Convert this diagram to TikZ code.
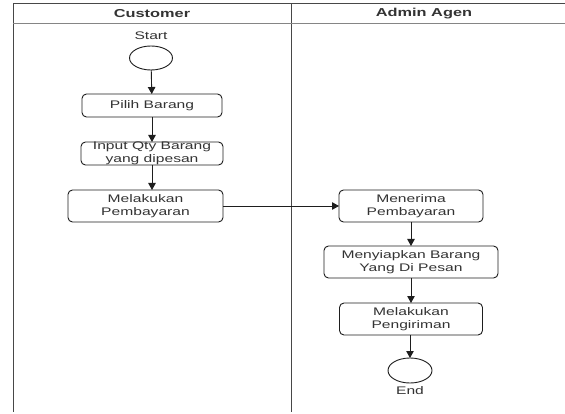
\documentclass[tikz,border=0pt]{standalone}
\usepackage{fontspec}
\setmainfont{Liberation Sans}[FakeStretch=1.42]
\usetikzlibrary{arrows.meta,shapes.geometric}
\definecolor{ink}{HTML}{333333}
\definecolor{edge}{HTML}{1E1E1E}
\tikzset{
  lane/.style={draw=ink!90, line width=1pt},
  act/.style={draw=edge, line width=0.9pt, rounded corners=4.5pt, fill=white,
    text=ink, font=\fontsize{11}{12.7}\selectfont, align=center,
    inner sep=0pt, outer sep=0pt},
  term/.style={ellipse, draw=edge, line width=0.9pt, inner sep=0pt, outer sep=0pt},
  lbl/.style={text=ink, font=\fontsize{11}{12.7}\selectfont, inner sep=0pt},
  head/.style={text=ink, font=\fontsize{11.5}{13}\selectfont\bfseries, inner sep=0pt},
  flow/.style={draw=edge, line width=0.9pt, -{Triangle[length=7pt,width=7.5pt]}},
}
\begin{document}
\begin{tikzpicture}[x=1pt,y=-1pt]
\useasboundingbox[fill=white] (0,0) rectangle (565,414);
% swimlane frame
\coordinate (tl) at (13,4);
\coordinate (tr) at (566,4);
\coordinate (bl) at (13,412);
\coordinate (hl) at (13,23);
\coordinate (hr) at (566,23);
\coordinate (dt) at (291,4);
\coordinate (db) at (291,412);
\draw[lane] (tr) -- (tl) -- (bl);
\draw[lane] (dt) -- (db);
\draw[draw=ink!60, line width=0.9pt] (hl) -- (hr);
\node[head] (h1) at (152,14) {Customer};
\node[head] (h2) at (424,14) {Admin Agen};
% customer lane
\node[lbl] (startlbl) at (151,36) {Start};
\node[term, minimum width=43pt, minimum height=24pt] (start) at (151,58) {};
\node[act, minimum width=140pt, minimum height=23pt] (pilih) at (152,105.5) {Pilih Barang};
\node[act, minimum width=142pt, minimum height=23pt] (input) at (152,153.5) {Input Qty Barang\\yang dipesan};
\node[act, minimum width=155pt, minimum height=32pt] (bayar) at (145.5,206) {Melakukan\\Pembayaran};
% admin lane
\node[act, minimum width=144pt, minimum height=32pt] (terima) at (411,206) {Menerima\\Pembayaran};
\node[act, minimum width=174pt, minimum height=32pt] (siap) at (411,262) {Menyiapkan Barang\\Yang Di Pesan};
\node[act, minimum width=143pt, minimum height=32pt] (kirim) at (411,319) {Melakukan\\Pengiriman};
\node[term, minimum width=44pt, minimum height=25pt] (end) at (410,370.5) {};
\node[lbl] (endlbl) at (410,391) {End};
% flow
\draw[flow] (start) -- (pilih);
\draw[flow] (pilih) -- (input);
\draw[flow] (input.south) -- (input.south |- bayar.north);
\draw[flow] (bayar.east) -- (terima.west);
\draw[flow] (terima) -- (siap);
\draw[flow] (siap) -- (kirim);
\draw[flow] (kirim.south -| end.north) -- (end.north);
\end{tikzpicture}
\end{document}
